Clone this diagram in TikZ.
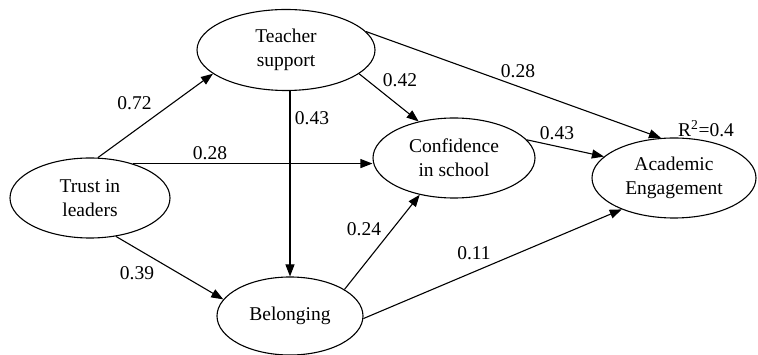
\documentclass[tikz,border=0pt]{standalone}
\usepackage{fontspec}
\setmainfont{Liberation Serif}
\newfontfamily\diagramfont{Liberation Serif}
\usetikzlibrary{shapes.geometric,arrows.meta}
\begin{document}
\begin{tikzpicture}[x=1pt,y=-1pt,
  construct/.style={draw,ellipse,line width=1.1pt,inner sep=0pt,align=center,
    font=\diagramfont\fontsize{19.5}{24}\selectfont},
  causal/.style={line width=1.1pt,-{Triangle[length=12pt,width=9pt]}},
  coef/.style={inner sep=0pt,anchor=base,font=\diagramfont\fontsize{19.5}{24}\selectfont}]
\useasboundingbox (0,0) rectangle (758,355);

% latent constructs
\node[construct,minimum width=160pt,minimum height=80pt] (trust)   at (90,198)  {Trust in\\leaders};
\node[construct,minimum width=178pt,minimum height=81pt] (teacher) at (286,50)  {Teacher\\support};
\node[construct,minimum width=162pt,minimum height=80pt] (conf)    at (454,158) {Confidence\\in school};
\node[construct,minimum width=164pt,minimum height=80pt] (acad)    at (674,178) {Academic\\Engagement};
\node[construct,minimum width=146pt,minimum height=78pt] (belong)  at (290,316) {Belonging};

% structural paths
\draw[causal] (trust.79) -- (teacher.198);
\draw[causal] (trust.39) -- (trust.39 -| conf.west);
\draw[causal] (trust.304) -- (belong.166);
\draw[causal] (teacher.south -| belong.north) -- (belong.north);
\draw[causal] (teacher.342) -- (conf.134);
\draw[causal] (teacher.13) -- (acad.108);
\draw[causal] (conf.14) -- (acad.163);
\draw[causal] (belong.26) -- (conf.227);
\draw[causal] (belong.358) -- (acad.211);

% path coefficients
\node[coef] (c1) at (134.5,110) {0.72};
\node[coef] (c2) at (210,160) {0.28};
\node[coef] (c3) at (137,280) {0.39};
\node[coef] (c4) at (312,125) {0.43};
\node[coef] (c5) at (400,87) {0.42};
\node[coef] (c6) at (518,78) {0.28};
\node[coef] (c7) at (557,140) {0.43};
\node[coef] (c8) at (364,236) {0.24};
\node[coef] (c9) at (474,260) {0.11};
\node[coef,anchor=base west] (r2) at (678,137) {R\textsuperscript{2}=0.4};
\end{tikzpicture}
\end{document}
